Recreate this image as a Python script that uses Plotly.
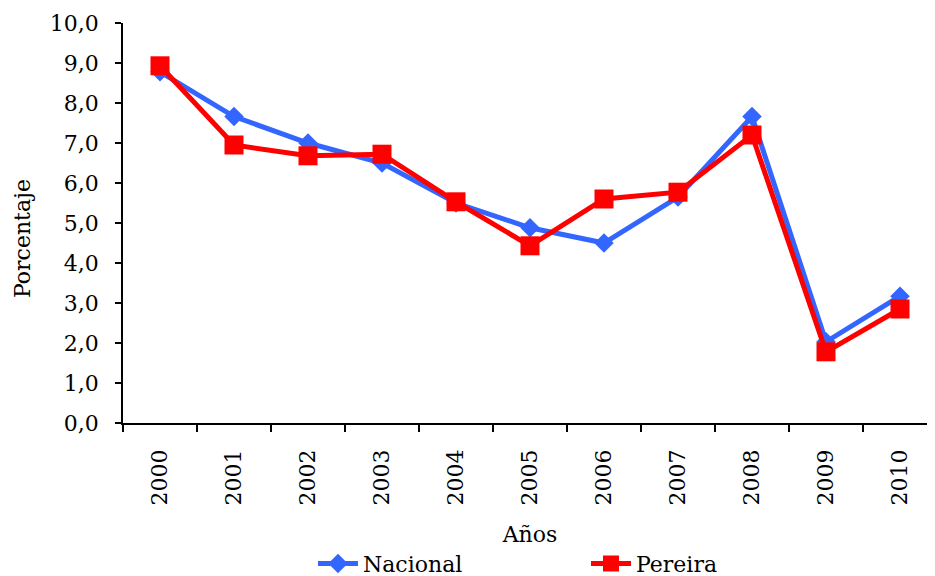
import plotly.graph_objects as go

years = ["2000", "2001", "2002", "2003", "2004", "2005", "2006", "2007", "2008", "2009", "2010"]
nacional = [8.78, 7.66, 7.0, 6.5, 5.5, 4.88, 4.5, 5.65, 7.66, 2.03, 3.17]
pereira = [8.93, 6.95, 6.68, 6.72, 5.53, 4.43, 5.6, 5.77, 7.2, 1.78, 2.85]
y_ticks = [0, 1, 2, 3, 4, 5, 6, 7, 8, 9, 10]

tick_font = dict(family="DejaVu Serif", size=22, color="#000000")
title_font = dict(family="DejaVu Serif", size=22, color="#000000")

fig = go.Figure()
fig.add_trace(go.Scatter(
    x=years, y=nacional, name="Nacional", mode="lines+markers",
    line=dict(color="#3366FF", width=5),
    marker=dict(symbol="diamond", size=15, color="#3366FF"),
))
fig.add_trace(go.Scatter(
    x=years, y=pereira, name="Pereira", mode="lines+markers",
    line=dict(color="#FF0000", width=5),
    marker=dict(symbol="square", size=19, color="#FF0000"),
))

fig.update_layout(
    width=935, height=584,
    margin=dict(l=115, r=6, t=15, b=169),
    plot_bgcolor="white", paper_bgcolor="white",
    separators=",.",
    showlegend=True,
    legend=dict(orientation="h", x=0.2334, xanchor="left", y=-0.352, yanchor="middle",
                font=title_font, itemwidth=40, tracegroupgap=0,
                entrywidth=218, entrywidthmode="pixels"),
    annotations=[dict(text="Porcentaje", textangle=-90, font=title_font,
                      xref="paper", yref="paper", x=-0.124, y=0.46,
                      xanchor="center", yanchor="middle", showarrow=False)],
)
fig.update_xaxes(
    type="category", range=[-0.5, 10.5],
    showline=True, linecolor="black", linewidth=1.5,
    ticks="outside", tickson="boundaries", ticklen=7, tickcolor="black", tickwidth=1.5,
    tickangle=-90, tickfont=tick_font, ticklabelstandoff=16,
    showgrid=False, zeroline=False, automargin=False,
    title=dict(text="Años", font=title_font, standoff=22),
)
fig.update_yaxes(
    range=[0, 10], tickvals=y_ticks, tickformat=".1f",
    showline=True, linecolor="black", linewidth=1.5,
    ticks="outside", ticklen=6, tickcolor="black", tickwidth=1.5,
    tickfont=tick_font, ticklabelstandoff=12,
    showgrid=False, zeroline=False, automargin=False,
)

fig.write_html("out.html")
